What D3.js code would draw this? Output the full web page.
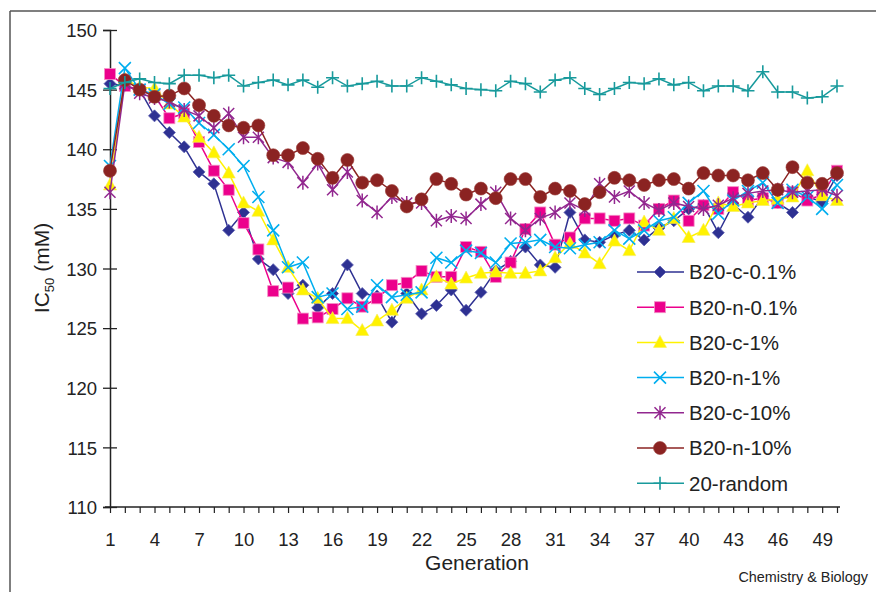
<!DOCTYPE html>
<html><head><meta charset="utf-8">
<script src="https://cdn.jsdelivr.net/npm/d3@7"></script>
<style>
html,body{margin:0;padding:0;background:#fff;}
svg{display:block;font-family:"Liberation Sans",Arial,Helvetica,sans-serif;}
</style></head>
<body>
<svg id="chart" width="876" height="592"></svg>
<script>
const generations = d3.range(1, 51);
const xTickLabels = [1,4,7,10,13,16,19,22,25,28,31,34,37,40,43,46,49];
const yTicks = [110,115,120,125,130,135,140,145,150];
const seriesNames = ["B20-c-0.1%","B20-n-0.1%","B20-c-1%","B20-n-1%","B20-c-10%","B20-n-10%","20-random"];

const c01 = [145.5,145.3,145.0,142.8,141.4,140.2,138.1,137.1,133.2,134.7,130.8,129.9,127.9,128.6,126.7,127.9,130.3,127.9,127.7,125.5,127.9,126.2,126.9,128.2,126.5,128.0,129.8,130.6,131.8,130.3,130.1,134.7,132.4,132.2,132.8,133.2,132.4,133.4,134.0,135.0,135.3,133.0,135.4,134.3,136.0,135.5,134.7,136.0,135.6,137.8];
const n01 = [146.3,145.3,145.0,144.5,142.6,143.0,140.6,138.2,136.6,133.8,131.6,128.1,128.4,125.8,125.9,126.6,127.5,126.8,127.5,128.6,128.8,129.8,129.3,129.3,131.8,131.4,129.3,130.5,133.3,134.7,132.0,132.6,134.2,134.2,134.0,134.2,133.6,135.0,135.7,134.0,135.3,135.0,136.4,135.7,135.9,135.5,136.4,135.7,136.2,138.2];
const c1 = [137.0,145.9,145.2,145.1,143.8,142.7,141.0,139.7,138.0,135.5,134.8,132.4,130.1,128.2,127.5,125.8,125.8,124.8,125.6,126.5,127.5,128.2,129.3,128.7,129.2,129.6,129.7,129.6,129.6,129.8,130.9,132.1,131.3,130.4,132.3,131.5,133.9,133.2,134.2,132.6,133.2,135.5,135.2,135.5,135.7,135.8,136.0,138.2,136.1,135.7];
const n1 = [138.6,146.8,145.0,144.6,143.8,143.5,142.2,141.2,140.0,138.6,136.0,133.2,130.1,130.5,127.6,127.9,126.6,126.8,128.6,127.6,127.8,128.0,130.9,130.5,131.5,131.3,130.5,132.1,132.2,132.4,131.8,131.7,132.0,132.2,133.2,132.5,133.2,134.0,134.3,135.5,136.5,134.6,135.7,136.5,137.2,135.5,136.6,136.0,135.0,137.0];
const c10 = [136.4,145.5,144.7,144.3,144.0,143.3,142.8,141.8,143.0,141.0,141.0,139.3,138.9,137.2,138.8,136.6,138.1,135.7,134.7,136.0,135.5,135.5,134.0,134.4,134.2,135.4,136.4,134.2,133.2,134.2,134.7,135.5,134.9,137.1,136.0,136.5,135.5,134.9,135.5,135.2,135.0,135.3,135.9,136.3,136.5,136.6,136.4,136.5,136.6,136.1];
const n10 = [138.2,145.8,145.0,144.4,144.5,145.1,143.7,142.8,142.0,141.8,142.0,139.5,139.5,140.1,139.2,137.6,139.1,137.2,137.4,136.5,135.2,135.8,137.5,137.1,136.2,136.7,135.9,137.5,137.5,136.0,136.7,136.5,135.4,136.4,137.6,137.4,137.0,137.4,137.5,136.7,138.0,137.8,137.8,137.4,138.0,136.6,138.5,137.2,137.1,138.0];
const rnd = [145.1,145.6,145.9,145.6,145.5,146.2,146.2,146.0,146.2,145.3,145.6,145.8,145.4,145.8,145.2,146.0,145.3,145.5,145.7,145.3,145.3,146.0,145.7,145.4,145.1,145.0,144.9,145.7,145.5,144.8,145.8,146.0,145.1,144.6,145.1,145.6,145.5,145.9,145.4,145.6,144.9,145.3,145.3,144.9,146.5,144.8,144.8,144.3,144.4,145.3];

const seriesValues = [c01, n01, c1, n1, c10, n10, rnd];
const colors = ["#2e3192","#ec008c","#fff200","#00aeef","#92278f","#8b2322","#189a9c"];
const markers = ["diamond","square","triangle","cross","star","circle","plus"];

const svg = d3.select("#chart");
// frame
svg.append("line").attr("x1",10).attr("y1",11).attr("x2",876).attr("y2",11).attr("stroke","#555").attr("stroke-width",1.5);
svg.append("line").attr("x1",10).attr("y1",11).attr("x2",10).attr("y2",592).attr("stroke","#555").attr("stroke-width",1.5);

const x = d3.scaleLinear().domain([1,50]).range([110,837]);
const y = d3.scaleLinear().domain([110,150]).range([507,30]);

// y axis
const gy = svg.append("g").attr("transform","translate(110,0)")
  .call(d3.axisLeft(y).tickValues(yTicks).tickSize(7).tickPadding(6));
gy.selectAll(".tick line").attr("x2",7).attr("x1",-7).attr("stroke","#222").attr("stroke-width",1.3);
gy.select(".domain").attr("stroke","#222").attr("stroke-width",1.5);
gy.selectAll("text").attr("font-size",18.5).attr("fill","#222").attr("dy","0.36em").attr("x",-13);

// x axis
const gx = svg.append("g").attr("transform","translate(0,507)")
  .call(d3.axisBottom(x).tickValues(generations).tickSize(6).tickFormat(d => xTickLabels.includes(d) ? d : ""));
gx.select(".domain").attr("d","M105,0H840").attr("stroke","#222").attr("stroke-width",1.5);
gx.selectAll(".tick line").attr("stroke","#222").attr("stroke-width",1.2);
gx.selectAll("text").attr("font-size",18.5).attr("fill","#222").attr("y",26);

// axis titles
svg.append("text").attr("x",477).attr("y",570).attr("text-anchor","middle").attr("font-size",21).attr("fill","#222").text("Generation");
const yl = svg.append("text").attr("transform","translate(49,268) rotate(-90)").attr("text-anchor","middle").attr("font-size",21).attr("fill","#222");
yl.append("tspan").text("IC");
yl.append("tspan").attr("font-size",13).attr("dy",5).text("50");
yl.append("tspan").attr("dy",-5).text(" (mM)");
svg.append("text").attr("x",868).attr("y",582).attr("text-anchor","end").attr("font-size",14.4).attr("fill","#222").text("Chemistry & Biology");

function drawMarker(g, type, color) {
  if (type === "diamond") {
    g.append("path").attr("d","M0,-6L6,0L0,6L-6,0Z").attr("fill",color).attr("stroke","#5a5db0").attr("stroke-width",0.8);
  } else if (type === "square") {
    g.append("rect").attr("x",-5.5).attr("y",-5.5).attr("width",11).attr("height",11).attr("fill",color).attr("stroke","#f48fc6").attr("stroke-width",0.8);
  } else if (type === "triangle") {
    g.append("path").attr("d","M0,-7L6.5,5L-6.5,5Z").attr("fill",color).attr("stroke","#f6ec5a").attr("stroke-width",0.6);
  } else if (type === "cross") {
    g.append("path").attr("d","M-6,-6L6,6M-6,6L6,-6").attr("stroke",color).attr("stroke-width",1.6).attr("fill","none");
  } else if (type === "star") {
    g.append("path").attr("d","M-5.5,-5.5L5.5,5.5M-5.5,5.5L5.5,-5.5M0,-7L0,7").attr("stroke",color).attr("stroke-width",1.5).attr("fill","none");
  } else if (type === "circle") {
    g.append("circle").attr("r",6.5).attr("fill",color).attr("stroke","#9a3a36").attr("stroke-width",0.6);
  } else if (type === "plus") {
    g.append("path").attr("d","M-6.5,0L6.5,0M0,-6.5L0,6.5").attr("stroke",color).attr("stroke-width",1.6).attr("fill","none");
  }
}

const line = d3.line().x((d,i) => x(generations[i])).y(d => y(d));
const plot = svg.append("g");
seriesValues.forEach((vals, si) => {
  const g = plot.append("g");
  g.append("path").datum(vals).attr("d", line).attr("fill","none").attr("stroke", colors[si]).attr("stroke-width",1.5);
  vals.forEach((v,i) => {
    const mg = g.append("g").attr("transform",`translate(${x(generations[i])},${y(v)})`);
    drawMarker(mg, markers[si], colors[si]);
  });
});

// legend
const legend = svg.append("g");
seriesNames.forEach((name, i) => {
  const ly = 272 + i*35.2;
  legend.append("line").attr("x1",637).attr("x2",684).attr("y1",ly).attr("y2",ly).attr("stroke",colors[i]).attr("stroke-width",1.5);
  drawMarker(legend.append("g").attr("transform",`translate(660,${ly})`), markers[i], colors[i]);
  legend.append("text").attr("x",689).attr("y",ly).attr("dy","0.36em").attr("font-size",20.5).attr("fill","#222").text(name);
});
</script>
</body></html>
